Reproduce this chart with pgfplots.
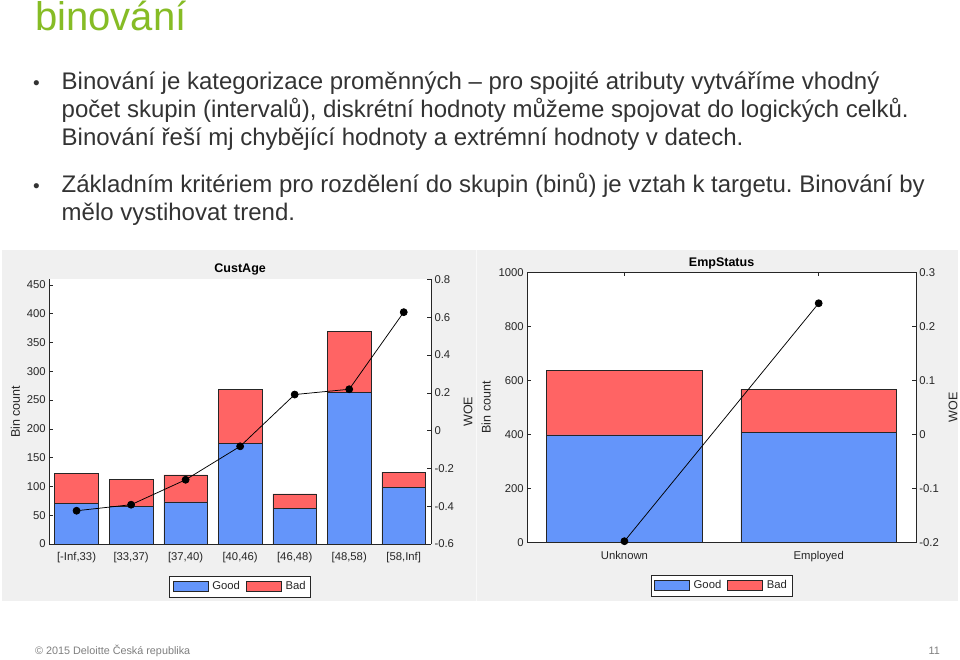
\documentclass[border=0pt]{standalone}
\usepackage{fontspec}
\setmainfont{Liberation Sans}
\usepackage{pgfplots}
\pgfplotsset{compat=1.18}
\frenchspacing
\definecolor{dgreen}{HTML}{86BC25}
\definecolor{goodc}{HTML}{6495FA}
\definecolor{badc}{HTML}{FF6464}
\definecolor{figgray}{HTML}{F0F0F0}
\definecolor{axc}{HTML}{262626}
\definecolor{txt}{HTML}{333333}
\definecolor{foot}{HTML}{7F7F7F}
\pgfplotsset{
  slidebase/.style={
    scale only axis,
    axis line style={axc, line width=0.6pt},
    every tick/.style={axc, line width=0.6pt},
    major tick length=4pt,
    ticklabel style={font=\fontsize{11.3}{13}\selectfont, text=axc},
    xticklabel style={yshift=-5pt},
    /pgf/number format/assume math mode=true,
    /pgf/number format/1000 sep={},
    label style={font=\fontsize{12.5}{15}\selectfont, text=axc},
    title style={font=\bfseries\fontsize{12.5}{15}\selectfont, text=black, anchor=base},
  },
  barleg/.style={legend image code/.code={\draw[##1] (0pt,-5pt) rectangle (35pt,5pt);}},
  slideleg/.style={legend style={at={(0.5,-0.121)}, anchor=north, legend columns=2,
      draw=axc, line width=0.6pt, fill=white, text=axc,
      font=\fontsize{11.3}{13}\selectfont, inner xsep=3pt, inner ysep=3.5pt,
      /tikz/every odd column/.append style={column sep=2pt},
      /tikz/every even column/.append style={column sep=4pt}}},
}
\pgfplotstableread{
x good bad woe
1 70 53 -0.424
2 66 46 -0.392
3 73 47 -0.260
4 175 93 -0.083
5 62 25 0.191
6 263 107 0.219
7 99 26 0.627
}\custage
\pgfplotstableread{
x good bad woe
1 398 239 -0.198
2 408 160 0.243
}\empstatus
\begin{document}
\begin{tikzpicture}[x=1pt,y=1pt]
\useasboundingbox (0,0) rectangle (960,660);
\fill[white] (0,0) rectangle (960,660);
\fill[figgray] (2,59) rectangle (958,410);
\draw[white!60!figgray, line width=1pt] (476,59) -- (476,410);

\node[anchor=base west, inner sep=0, text=dgreen, font=\fontsize{40}{48}\selectfont] at (35,629) {binování};

\begin{scope}[every node/.style={anchor=base west, inner sep=0, text=txt, font=\fontsize{24}{28}\selectfont}]
\node at (33,570.5) {\fontsize{19}{20}\selectfont •};
\node at (61.5,570.5) {Binování je kategorizace proměnných – pro spojité atributy vytváříme vhodný};
\node at (61.5,542.5) {počet skupin (intervalů), diskrétní hodnoty můžeme spojovat do logických celků.};
\node at (61.5,514.5) {Binování řeší mj chybějící hodnoty a extrémní hodnoty v datech.};
\node at (33,467) {\fontsize{19}{20}\selectfont •};
\node at (61.5,467) {Základním kritériem pro rozdělení do skupin (binů) je vztah k targetu. Binování by};
\node at (61.5,439) {mělo vystihovat trend.};
\end{scope}

\node[anchor=base west, inner sep=0, text=foot, font=\fontsize{10.8}{13}\selectfont] at (35,5) {© 2015 Deloitte Česká republika};
\node[anchor=base east, inner sep=0, text=foot, font=\fontsize{10.8}{13}\selectfont] at (940,5) {11};

% ---------- CustAge ----------
\begin{axis}[slidebase, at={(49.3pt,116pt)}, anchor=south west, width=381.7pt, height=264.5pt,
  xmin=0.5, xmax=7.5, ymin=0, ymax=459.5,
  axis y line*=left, axis x line*=bottom, tick align=inside,
  axis background/.style={fill=white},
  xtick={1,...,7},
  xticklabels={{[-Inf,33)},{[33,37)},{[37,40)},{[40,46)},{[46,48)},{[48,58)},{[58,Inf]}},
  ytick={0,50,...,450},
  ylabel={Bin count}, ylabel style={at={(axis description cs:-0.089,0.5)}, anchor=center},
  title={CustAge}, title style={at={(axis description cs:0.5,1)}, yshift=1pt},
  ybar stacked, bar width=0.8,
  slideleg]
\addplot[fill=goodc, draw=axc, line width=0.6pt, barleg] table[x=x, y=good] {\custage};
\addplot[fill=badc, draw=axc, line width=0.6pt, barleg] table[x=x, y=bad] {\custage};
\legend{Good, Bad}
\end{axis}
\begin{axis}[slidebase, at={(49.3pt,116pt)}, anchor=south west, width=381.7pt, height=264.5pt,
  xmin=0.5, xmax=7.5, ymin=-0.6, ymax=0.8,
  axis x line=none, axis y line*=right, tick align=inside,
  ytick={-0.6,-0.4,-0.2,0,0.2,0.4,0.6,0.8},
  yticklabels={-0.6,-0.4,-0.2,0,0.2,0.4,0.6,0.8},
  ylabel={WOE}, ylabel style={at={(axis description cs:1.097,0.5)}, anchor=center}]
\addplot[black, line width=0.75pt, mark=*, mark size=3.5pt, mark options={fill=black}] table[x=x, y=woe] {\custage};
\end{axis}

% ---------- EmpStatus ----------
\begin{axis}[slidebase, at={(527.3pt,117.7pt)}, anchor=south west, width=388.5pt, height=269.8pt,
  xmin=0.5, xmax=2.5, ymin=0, ymax=1000,
  tick align=inside, ytick pos=left,
  axis background/.style={fill=white},
  xtick={1,2}, xticklabels={Unknown,Employed},
  ytick={0,200,...,1000},
  ylabel={Bin count}, ylabel style={at={(axis description cs:-0.106,0.5)}, anchor=center},
  title={EmpStatus}, title style={at={(axis description cs:0.5,1)}, yshift=0pt},
  ybar stacked, bar width=0.8,
  slideleg]
\addplot[fill=goodc, draw=axc, line width=0.6pt, barleg] table[x=x, y=good] {\empstatus};
\addplot[fill=badc, draw=axc, line width=0.6pt, barleg] table[x=x, y=bad] {\empstatus};
\legend{Good, Bad}
\end{axis}
\begin{axis}[slidebase, at={(527.3pt,117.7pt)}, anchor=south west, width=388.5pt, height=269.8pt,
  xmin=0.5, xmax=2.5, ymin=-0.2, ymax=0.3,
  axis x line=none, axis y line*=right, tick align=inside,
  ytick={-0.2,-0.1,0,0.1,0.2,0.3},
  yticklabels={-0.2,-0.1,0,0.1,0.2,0.3},
  ylabel={WOE}, ylabel style={at={(axis description cs:1.0958,0.5)}, anchor=center}]
\addplot[black, line width=0.75pt, mark=*, mark size=3.5pt, mark options={fill=black}] table[x=x, y=woe] {\empstatus};
\end{axis}
\end{tikzpicture}
\end{document}
